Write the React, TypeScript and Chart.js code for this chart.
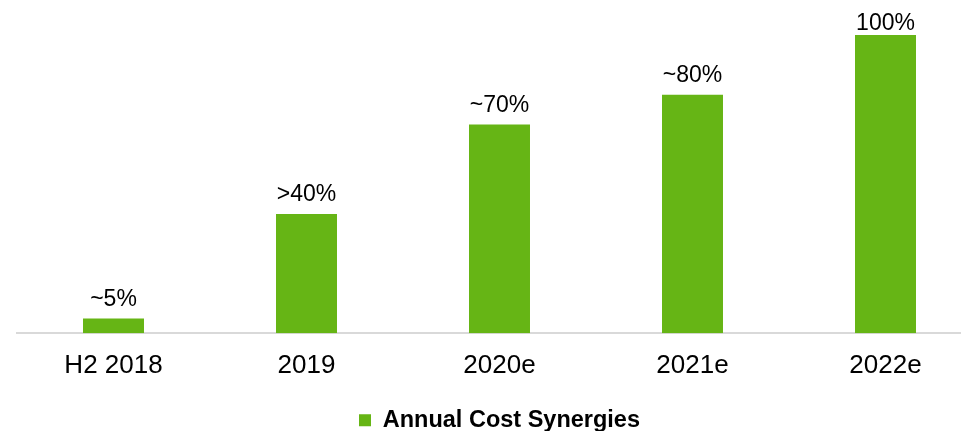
import React, { useEffect, useRef } from "react";
import { Chart, registerables } from "chart.js";

Chart.register(...registerables);

const categories = ["H2 2018", "2019", "2020e", "2021e", "2022e"];
const synergyValues = [5, 40, 70, 80, 100];
const valueLabels = ["~5%", ">40%", "~70%", "~80%", "100%"];
const seriesName = "Annual Cost Synergies";

const FONT = "'Liberation Sans', Arial, sans-serif";
const GREEN = "#66b515";

const barLabelPlugin = {
  id: "barLabels",
  afterDatasetsDraw(chart: any) {
    const { ctx } = chart;
    const meta = chart.getDatasetMeta(0);
    ctx.save();
    ctx.font = `23px ${FONT}`;
    ctx.fillStyle = "#000";
    ctx.textAlign = "center";
    ctx.textBaseline = "alphabetic";
    const minBaseline = chart.chartArea.top - 5;
    meta.data.forEach((bar: any, i: number) => {
      const y = Math.max(bar.y - 12.5, minBaseline);
      ctx.fillText(valueLabels[i], bar.x, y);
    });
    ctx.restore();
  },
};

export default function App() {
  const ref = useRef<HTMLCanvasElement | null>(null);
  useEffect(() => {
    if (!ref.current) return;
    const chart = new Chart(ref.current, {
      type: "bar",
      data: {
        labels: categories,
        datasets: [
          {
            label: seriesName,
            data: synergyValues,
            backgroundColor: GREEN,
            borderWidth: 0,
            barPercentage: 0.316,
            categoryPercentage: 1,
          },
        ],
      },
      options: {
        animation: false,
        responsive: true,
        maintainAspectRatio: false,
        layout: { padding: { left: 17, right: 18, top: 35, bottom: 0 } },
        scales: {
          x: {
            grid: { display: false },
            border: { display: true, color: "#d9d9d9", width: 2 },
            ticks: {
              color: "#000",
              font: { family: FONT, size: 26 },
              padding: 9,
            },
          },
          y: {
            display: false,
            min: 0,
            max: 100,
          },
        },
        plugins: {
          legend: {
            position: "bottom",
            labels: {
              color: "#000",
              font: { family: FONT, size: 23.5, weight: "bold" },
              boxWidth: 12,
              boxHeight: 12,
              padding: 18,
            },
          },
          tooltip: { enabled: false },
        },
      },
      plugins: [barLabelPlugin],
    });
    return () => chart.destroy();
  }, []);
  return (
    <div
      style={{
        position: "absolute",
        left: 0,
        top: 0,
        width: 961,
        height: 431,
        overflow: "hidden",
      }}
    >
      <div style={{ width: 1000, height: 442, position: "relative" }}>
        <canvas ref={ref} />
      </div>
    </div>
  );
}
